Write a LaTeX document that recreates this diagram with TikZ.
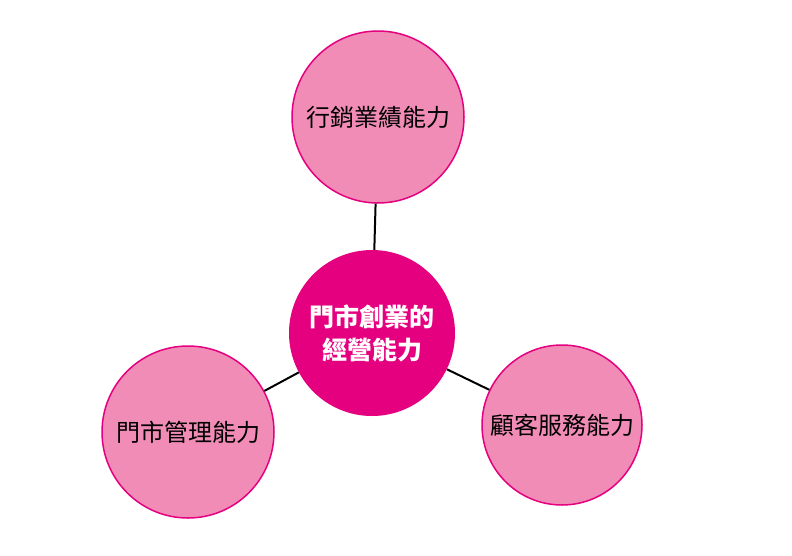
\documentclass[tikz,border=0pt]{standalone}
\usepackage{fontspec}
\newfontfamily\cjk{Noto Sans CJK TC}
\definecolor{magenta1}{HTML}{E4007F}
\definecolor{pink1}{HTML}{F08CB6}
\begin{document}
\begin{tikzpicture}[x=1pt,y=-1pt,
  outer/.style={circle,draw=magenta1,line width=1.5pt,fill=pink1,minimum size=172pt,inner sep=0pt,font=\cjk\fontsize{24}{28}\selectfont,text=black},
  center/.style={circle,fill=magenta1,minimum size=166pt,inner sep=0pt,font=\cjk\bfseries\fontsize{25}{33}\selectfont,text=white,align=center},
  link/.style={line width=2pt,black}]
\useasboundingbox (0,0) rectangle (792,555);
\node[center] (c) at (372,333) {門市創業的\\經營能力};
\node[outer] (t) at (378,117) {行銷業績能力};
\node[outer] (l) at (188,432) {門市管理能力};
\node[outer,minimum size=160pt] (r) at (562,425) {顧客服務能力};
\draw[link] (t) -- (c);
\draw[link] (l) -- (c);
\draw[link] (r) -- (c);
\end{tikzpicture}
\end{document}
